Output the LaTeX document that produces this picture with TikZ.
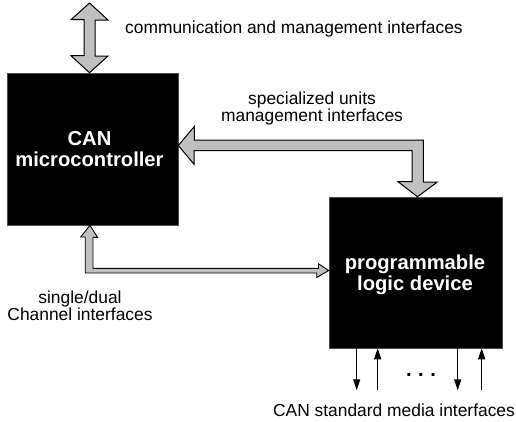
\documentclass[tikz,border=0pt]{standalone}
\usepackage{fontspec}
\setmainfont{Liberation Sans}
\usetikzlibrary{arrows.meta,calc}
\definecolor{pipe}{RGB}{192,192,192}
\tikzset{
  block/.style={fill=black, draw=black!70, line width=0.6pt, minimum width=#1, inner sep=0pt},
  blocktext/.style={text=white, font=\fontsize{20.2}{20.5}\selectfont\bfseries, align=center, inner sep=0pt},
  label/.style={font=\fontsize{17.4}{16.7}\selectfont, align=center, inner sep=0pt},
  fatpipe/.style={fill=pipe, draw=black, line width=1pt, line join=miter},
  media/.style={line width=1.1pt, -{Triangle[length=11pt,width=7pt]}}
}
\begin{document}
\begin{tikzpicture}[x=1pt, y=-1pt]
  \useasboundingbox (0,0) rectangle (516,421);

  % the two processing blocks
  \node[block=171pt, minimum height=152pt] (mc) at (92.5,149) {};
  \node[block=173pt, minimum height=151pt] (pld) at (415.5,272.5) {};
  % multi-line nodes: the base anchor sits on the last line
  \node[blocktext, anchor=base] (mctext) at (89.5,166) {CAN\\microcontroller};
  \node[blocktext, anchor=base] (pldtext) at (415,290) {programmable\\logic device};

  % attachment points on the blocks
  \coordinate (extTop) at (89.5,3);
  \coordinate (mcTop) at ($(mc.north)+(-3,0)$);
  \coordinate (mcSide) at ($(mc.east)+(0,-3.5)$);
  \coordinate (pldTop) at ($(pld.north)+(2,0)$);
  \coordinate (mcBottom) at ($(mc.south)+(-2.5,0)$);
  \coordinate (pldSide) at ($(pld.west)+(0,-2)$);

  % communication and management interfaces (double headed)
  \draw[fatpipe] (extTop) -- ++(18.5,17) -- ++(-13,0) -- ++(0,36) -- ++(13,0)
    -- (mcTop) -- ++(-18.5,-17) -- ++(13,0) -- ++(0,-36) -- ++(-13,0) -- cycle;

  % specialized units management interfaces
  \draw[fatpipe] (mcSide) -- ++(16,-19) -- ++(0,13.5) -- ++(229,0) -- ++(0,42)
    -- ++(14,0) -- (pldTop) -- ++(-19.5,-15) -- ++(14,0) -- ++(0,-31)
    -- ++(-218,0) -- ++(0,13.5) -- cycle;

  % single/dual channel interfaces
  \draw[fatpipe, line width=0.9pt] (mcBottom) -- ++(7.5,12) -- ++(-4.5,0) -- ++(0,31)
    -- ++(225.5,0) -- ++(0,-4.5) -- (pldSide) -- ++(-12,7) -- ++(0,-4.5)
    -- ++(-231.5,0) -- ++(0,-36) -- ++(-4.5,0) -- cycle;

  % CAN standard media lines
  \coordinate (m1) at ($(pld.south west)+(28,0)$);
  \coordinate (m2) at ($(pld.south west)+(49,0)$);
  \coordinate (m3) at ($(pld.south west)+(129,0)$);
  \coordinate (m4) at ($(pld.south west)+(153,0)$);
  \coordinate (e1) at ($(m1)+(0,42)$);
  \coordinate (e2) at ($(m2)+(0,42)$);
  \coordinate (e3) at ($(m3)+(0,42)$);
  \coordinate (e4) at ($(m4)+(0,42)$);
  \draw[media] (m1) -- (e1);
  \draw[media] (e2) -- (m2);
  \draw[media] (m3) -- (e3);
  \draw[media] (e4) -- (m4);
  \node[font=\fontsize{20}{20}\selectfont\bfseries, inner sep=0pt, anchor=base] (dots) at (421,376) {.\hspace{6.5pt}.\hspace{6.5pt}.};

  % interface labels
  \node[label, anchor=base west] (commlbl) at (125,33) {communication and management interfaces};
  \node[label, anchor=base] (speclbl) at (312,121) {specialized units\\management interfaces};
  \node[label, anchor=base] (chanlbl) at (80,320) {single/dual\\Channel interfaces};
  \node[label, anchor=base] (medialbl) at (394,416) {CAN standard media interfaces};
\end{tikzpicture}
\end{document}
